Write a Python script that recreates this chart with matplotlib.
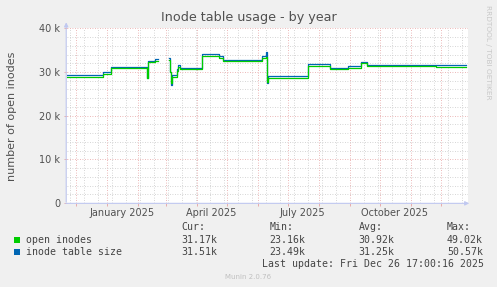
import matplotlib
matplotlib.use("Agg")
import matplotlib.pyplot as plt
import matplotlib.dates as mdates
from matplotlib.patches import Rectangle
import numpy as np
import pandas as pd

# step breakpoints (value holds until the next date), values in thousands
dates = ["2024-11-22", "2024-12-28", "2025-01-05", "2025-02-10", "2025-02-11",
         "2025-02-18", "2025-02-21", "2025-03-04", "2025-03-05", "2025-03-06",
         "2025-03-07", "2025-03-12", "2025-03-13", "2025-03-15", "2025-04-06",
         "2025-04-23", "2025-04-27", "2025-06-05", "2025-06-09", "2025-06-10",
         "2025-06-11", "2025-07-21", "2025-08-12", "2025-08-30", "2025-09-12",
         "2025-09-18", "2025-11-26", "2025-12-26"]
open_inodes = [28.85, 29.45, 30.8, 28.6, 32.2,
               32.6, np.nan, 32.8, 30.0, 27.4,
               28.95, 30.2, 31.2, 30.6, 33.75,
               33.3, 32.4, 33.3, 33.5, 27.8,
               28.7, 31.45, 30.6, 31.0, 31.95,
               31.45, 31.17, 31.17]
table_size = [29.2, 29.9, 31.2, 28.7, 32.6,
              33.0, np.nan, 33.3, 30.0, 27.0,
              29.4, 30.6, 31.6, 31.0, 34.05,
              33.7, 32.8, 33.7, 34.5, 27.4,
              29.1, 31.85, 31.0, 31.4, 32.35,
              31.6, 31.51, 31.51]

legend_names = ["open inodes", "inode table size"]
legend_colors = ["#00cc00", "#0066b3"]
stats = [["31.17k", "23.16k", "30.92k", "49.02k"],
         ["31.51k", "23.49k", "31.25k", "50.57k"]]
month_labels = ["January 2025", "April 2025", "July 2025", "October 2025"]
label_dates = ["2025-01-16", "2025-04-16", "2025-07-16", "2025-10-16"]

W, H = 497, 287
fig = plt.figure(figsize=(W / 100, H / 100), dpi=100, facecolor="#f0f0f0")
L, R, T, B = 67, 468, 28.3, 203
ax = fig.add_axes([L / W, 1 - B / H, (R - L) / W, (B - T) / H])
ax.set_facecolor("white")

x = pd.to_datetime(dates)
ax.step(x, np.array(table_size) * 1000, where="post", color=legend_colors[1], lw=0.9)
ax.step(x, np.array(open_inodes) * 1000, where="post", color=legend_colors[0], lw=0.9)

x0 = pd.Timestamp("2024-11-22 08:00")
ax.set_xlim(x0, x0 + pd.Timedelta(days=401))
ax.set_ylim(0, 40000)

for s in ax.spines.values():
    s.set_visible(False)

# grid
ax.set_yticks(np.arange(0, 40001, 10000))
ax.set_yticklabels(["0", "10 k", "20 k", "30 k", "40 k"])
ax.set_yticks(np.arange(0, 40001, 2000), minor=True)
ax.xaxis.set_major_locator(mdates.MonthLocator())
ax.xaxis.set_minor_locator(mdates.WeekdayLocator(byweekday=mdates.MO, interval=2))
ax.set_xticklabels([])
ax.grid(which="minor", color="#c8c8c8", lw=0.6, linestyle=(0, (1, 2)))
ax.grid(which="major", color="#e6a0a0", lw=0.6, linestyle=(0, (1, 2)))
ax.set_axisbelow(True)
ax.tick_params(which="major", axis="x", length=2.5, color="#e6a0a0", width=0.6)
ax.tick_params(which="major", axis="y", length=2, color="#e6a0a0", width=0.6,
               labelsize=7, labelcolor="#505050", pad=3)
ax.tick_params(which="minor", length=0)

for lab, d in zip(month_labels, label_dates):
    ax.text(pd.Timestamp(d), -0.03, lab, transform=ax.get_xaxis_transform(),
            ha="center", va="top", fontsize=7, color="#505050")

# axis lines with arrows
ac = "#c0c8f0"
ax.annotate("", xy=(-0.002, 1.05), xytext=(-0.002, -0.01), xycoords="axes fraction",
            arrowprops=dict(arrowstyle="-|>", color=ac, lw=0.8, mutation_scale=6))
ax.annotate("", xy=(1.01, -0.002), xytext=(-0.01, -0.002), xycoords="axes fraction",
            arrowprops=dict(arrowstyle="-|>", color=ac, lw=0.8, mutation_scale=6))

def fx(px):
    return px / W

def fy(py):
    return 1 - py / H

fig.text(fx(249), fy(18), "Inode table usage - by year", ha="center", va="center",
         fontsize=9.2, color="#505050")
fig.text(fx(12), fy(116), "number of open inodes", rotation=90, ha="center", va="center",
         fontsize=8, color="#505050")
fig.text(fx(488), fy(52), "RRDTOOL / TOBI OETIKER", rotation=270, ha="center", va="center",
         fontsize=5.3, color="#c8c8c8")

mono = dict(family="DejaVu Sans Mono", fontsize=7.1, color="#444444", va="center")
cols = [181, 269.5, 358.5, 447]
for cx, head in zip(cols, ["Cur:", "Min:", "Avg:", "Max:"]):
    fig.text(fx(cx), fy(227.5), head, **mono)
for i, (name, col) in enumerate(zip(legend_names, legend_colors)):
    yy = 240 + i * 11.7
    fig.add_artist(Rectangle((fx(14), fy(yy + 3)), 6 / W, 6 / H, transform=fig.transFigure,
                             facecolor=col, edgecolor="none"))
    fig.text(fx(26), fy(yy), name, **mono)
    for cx, v in zip(cols, stats[i]):
        fig.text(fx(cx), fy(yy), v, **mono)
fig.text(fx(261.7), fy(264), "Last update: Fri Dec 26 17:00:16 2025", **mono)
fig.text(fx(248), fy(277), "Munin 2.0.76", ha="center", va="center", fontsize=5,
         color="#c0c0c0")

fig.savefig("out.png", dpi=100, facecolor=fig.get_facecolor())
